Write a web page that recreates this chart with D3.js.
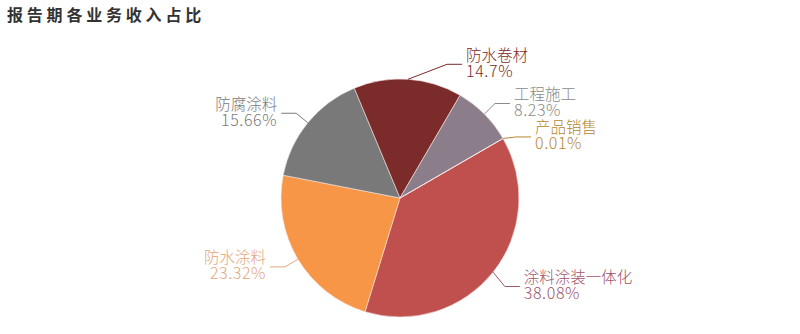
<!DOCTYPE html>
<html><head><meta charset="utf-8">
<script src="https://cdn.jsdelivr.net/npm/d3@7"></script>
<style>
html,body{margin:0;padding:0;background:#fff;}
svg{display:block;font-family:"Noto Sans CJK SC","Noto Sans",sans-serif;}
</style></head>
<body>
<svg id="chart" width="800" height="334"></svg>
<script>
const categories = ["涂料涂装一体化","防水涂料","防腐涂料","防水卷材","工程施工","产品销售"];
const values = [38.08, 23.32, 15.66, 14.7, 8.23, 0.01];
const valueLabels = ["38.08%","23.32%","15.66%","14.7%","8.23%","0.01%"];
const sliceColors = ["#c0504d","#f79646","#797979","#7b2b2a","#8c7d8a","#c8743a"];
const labelColors = ["#a0526a","#e3a57a","#7a7a7a","#7b2b2a","#8a8a8a","#b5862e"];
// small layout nudges for labels (collision avoidance as in the original)
const labelNudge = [[0,5],[0,0],[0,0],[38,0],[0,0],[0,6]];

const svg = d3.select("#chart");
const cx = 400, cy = 198, R = 119;

svg.append("text").attr("x",7).attr("y",21)
  .attr("font-size",16).attr("font-weight","bold").attr("fill","#333")
  .attr("letter-spacing","3.8px").text("报告期各业务收入占比");

const data = categories.map((c,i)=>({name:c,value:values[i],label:valueLabels[i],i}));
const startA = 60*Math.PI/180;
const pie = d3.pie().value(d=>d.value).sort(null)
  .startAngle(startA).endAngle(startA+2*Math.PI);
const arcs = pie(data);
const arc = d3.arc().innerRadius(0).outerRadius(R);

const g = svg.append("g").attr("transform",`translate(${cx},${cy})`);
g.selectAll("path.slice").data(arcs).join("path")
  .attr("class","slice")
  .attr("d",arc)
  .attr("fill",d=>sliceColors[d.data.i])
  .attr("stroke","#f4e6e6").attr("stroke-width",0.6);

const lab = g.selectAll("g.lab").data(arcs).join("g").attr("class","lab");
lab.each(function(d){
  const sel = d3.select(this);
  const i = d.data.i;
  const m = (d.startAngle+d.endAngle)/2;
  const s = Math.sin(m), c = -Math.cos(m);
  const p0 = [s*R, c*R];
  const p1 = [s*(R+15)+labelNudge[i][0], c*(R+15)+labelNudge[i][1]];
  const right = s >= 0;
  const p2 = [p1[0] + (right?15:-15), p1[1]];
  sel.append("polyline")
    .attr("points",[p0,p1,p2].map(p=>p.join(",")).join(" "))
    .attr("fill","none").attr("stroke",labelColors[i]).attr("stroke-width",1);
  const tx = p2[0] + (right?4:-4);
  const anchor = right?"start":"end";
  sel.append("text").attr("x",tx).attr("y",p2[1]-3.5)
    .attr("text-anchor",anchor).attr("font-size",15.5).attr("font-weight",300)
    .attr("fill",labelColors[i])
    .text(d.data.name);
  sel.append("text").attr("x",tx).attr("y",p2[1]+12.5)
    .attr("text-anchor",anchor).attr("font-size",16).attr("font-weight",300)
    .attr("letter-spacing","0.6px")
    .attr("fill",labelColors[i])
    .text(d.data.label);
});
</script>
</body></html>
